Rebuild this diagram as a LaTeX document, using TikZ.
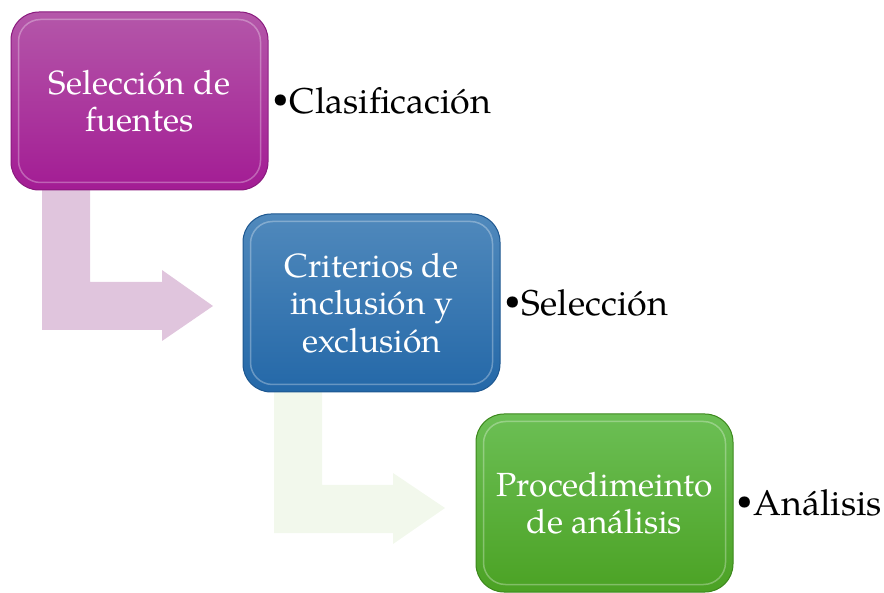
\documentclass[tikz,border=0pt]{standalone}
\usepackage{fontspec}
\setmainfont{TeX Gyre Pagella}
\definecolor{purTop}{HTML}{B457A9}
\definecolor{purBot}{HTML}{A31C94}
\definecolor{purEdge}{HTML}{8A1A7E}
\definecolor{bluTop}{HTML}{5089BC}
\definecolor{bluBot}{HTML}{2468A8}
\definecolor{bluEdge}{HTML}{1D5790}
\definecolor{grnTop}{HTML}{6CBF55}
\definecolor{grnBot}{HTML}{4BA224}
\definecolor{grnEdge}{HTML}{3C881C}
\definecolor{arrPur}{HTML}{E0C5DD}
\definecolor{arrGrn}{HTML}{F2F8EC}
\newcommand{\smallbul}{\raisebox{6pt}{\fontsize{28}{28}\selectfont•}\hspace{1.5pt}}
\begin{document}
\begin{tikzpicture}[x=1pt,y=-1pt,
  stagebox/.style={rounded corners=28pt, minimum width=257pt, minimum height=178pt,
    inner sep=0pt, text=white, align=center, font=\fontsize{33.5}{37.5}\selectfont, line width=1pt},
  bevel/.style={draw=white, draw opacity=0.3, line width=1.5pt, rounded corners=22pt},
  sidetext/.style={anchor=west, font=\fontsize{35.8}{40}\selectfont, inner sep=0pt, text=black}]
\useasboundingbox (0,0) rectangle (884,593);
% fat L arrows (drawn first, behind boxes)
\fill[arrPur] (42,150) -- (90,150) -- (90,282) -- (162,282) -- (162,270) -- (213,306)
  -- (162,341) -- (162,330) -- (42,330) -- cycle;
\fill[arrGrn] (274,360) -- (322,360) -- (322,485) -- (393,485) -- (393,473) -- (445,508)
  -- (393,544) -- (393,533) -- (274,533) -- cycle;
% boxes
\node[stagebox, top color=purTop, bottom color=purBot, draw=purEdge] (b1) at (139.5,101)
  {Selección de\\fuentes};
\node[stagebox, top color=bluTop, bottom color=bluBot, draw=bluEdge] (b2) at (371.5,303)
  {Criterios de\\inclusión y\\exclusión};
\node[stagebox, top color=grnTop, bottom color=grnBot, draw=grnEdge] (b3) at (604.5,503)
  {Procedimeinto\\de análisis};
% bevel highlights
\foreach \b in {b1,b2,b3}{
  \draw[bevel] ([shift={(8,8)}]\b.north west) rectangle ([shift={(-8,-8)}]\b.south east);
}
% side labels
\node[sidetext] (l1) at ([xshift=4pt]b1.east) {\smallbul Clasificación};
\node[sidetext] (l2) at ([xshift=4pt]b2.east) {\smallbul Selección};
\node[sidetext] (l3) at ([xshift=3pt]b3.east) {\smallbul Análisis};
\end{tikzpicture}
\end{document}
